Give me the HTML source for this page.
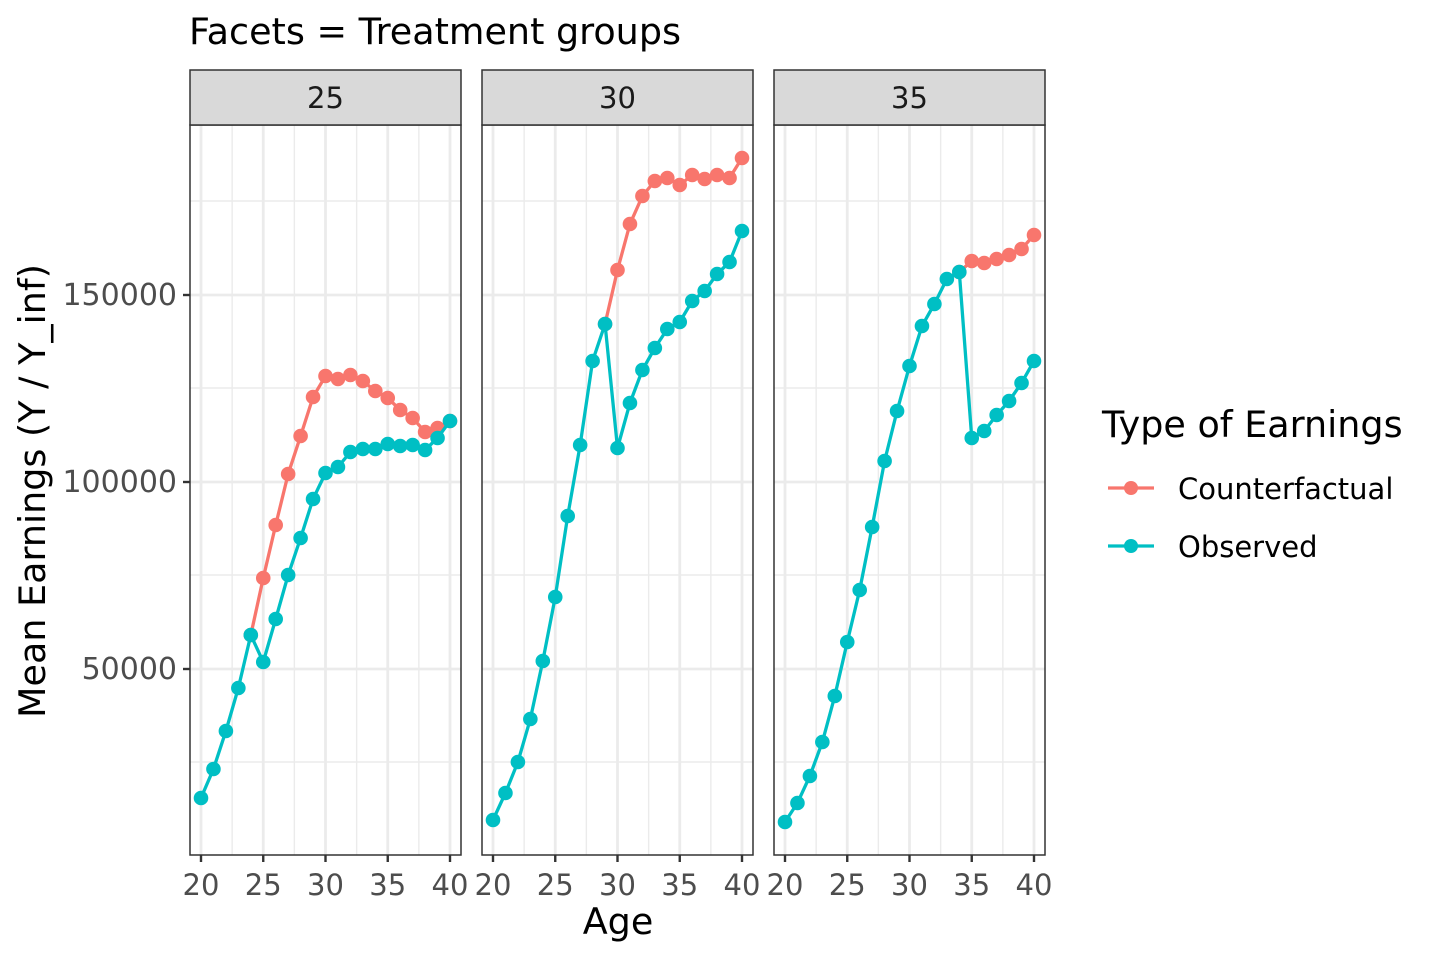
<!DOCTYPE html>
<html><head><meta charset="utf-8"><style>
body{margin:0;background:#fff}
svg text{font-family:"DejaVu Sans","Liberation Sans",sans-serif}
</style></head><body>
<svg id="s" width="1440" height="960" xmlns="http://www.w3.org/2000/svg">
<text x="189" y="44" font-size="36.5" fill="#000">Facets = Treatment groups</text>
<g id="p"></g>
<text x="0" y="0" font-size="36.5" transform="translate(45,491) rotate(-90)" text-anchor="middle">Mean Earnings (Y / Y_inf)</text>
<text x="618" y="934" font-size="36.5" text-anchor="middle">Age</text>
<g font-size="30" fill="#4D4D4D" text-anchor="end">
<text x="177" y="305">150000</text><text x="177" y="492">100000</text><text x="177" y="679">50000</text>
</g>
<text x="1102" y="437" font-size="36.5">Type of Earnings</text>
<line x1="1108" y1="488" x2="1154" y2="488" stroke="#F8766D" stroke-width="3.2"/><circle cx="1131" cy="488" r="7" fill="#F8766D"/>
<text x="1178" y="499" font-size="29">Counterfactual</text>
<line x1="1108" y1="546" x2="1154" y2="546" stroke="#00BFC4" stroke-width="3.2"/><circle cx="1131" cy="546" r="7" fill="#00BFC4"/>
<text x="1178" y="557" font-size="29">Observed</text>
</svg>
<script>
var NS="http://www.w3.org/2000/svg",g=document.getElementById("p");
function el(t,a,txt){var e=document.createElementNS(NS,t);for(var k in a)e.setAttribute(k,a[k]);if(txt)e.textContent=txt;g.appendChild(e);return e;}
var P=[{x0:190,lab:"25",
o:[798,769,731,688,635,662,619,575,538,499,473,467,452,449,449,444,446,445,450,438,421],
c:{s:24,v:[635,578,525,474,436,397,376,379,375,381,391,398,410,418,432,428,421]}},
{x0:482,lab:"30",
o:[820,793,762,719,661,597,516,445,361,324,448,403,370,348,329,322,301,291,274,262,231],
c:{s:29,v:[324,270,224,196,181,178,185,175,179,175,178,158]}},
{x0:774,lab:"35",
o:[822,803,776,742,696,642,590,527,461,411,366,326,304,279,272,438,431,415,401,383,361],
c:{s:34,v:[272,261,263,259,255,249,235]}}];
P.forEach(function(p){
 var x0=p.x0,w=271,ax=function(a){return x0+11+(a-20)*12.45;};
 el("rect",{x:x0,y:125,width:w,height:730,fill:"#fff"});
 [201,388,575,762].forEach(function(y){el("line",{x1:x0,x2:x0+w,y1:y,y2:y,stroke:"#EBEBEB","stroke-width":1.4});});
 [22.5,27.5,32.5,37.5].forEach(function(a){el("line",{x1:ax(a),x2:ax(a),y1:125,y2:855,stroke:"#EBEBEB","stroke-width":1.4});});
 [295,482,669].forEach(function(y){el("line",{x1:x0,x2:x0+w,y1:y,y2:y,stroke:"#EBEBEB","stroke-width":2.8});});
 [20,25,30,35,40].forEach(function(a){el("line",{x1:ax(a),x2:ax(a),y1:125,y2:855,stroke:"#EBEBEB","stroke-width":2.8});
  el("line",{x1:ax(a),x2:ax(a),y1:855,y2:862,stroke:"#333","stroke-width":2.4});
  el("text",{x:ax(a),y:895,"font-size":29,fill:"#4D4D4D","text-anchor":"middle"},String(a));});
 if(x0==190)[295,482,669].forEach(function(y){el("line",{x1:183,x2:190,y1:y,y2:y,stroke:"#333","stroke-width":2.4});});
 function series(s,v,col){var pts=v.map(function(y,i){return ax(s+i)+","+y;}).join(" ");
  el("polyline",{points:pts,fill:"none",stroke:col,"stroke-width":3.3});
  v.forEach(function(y,i){el("circle",{cx:ax(s+i),cy:y,r:7.3,fill:col});});}
 series(p.c.s,p.c.v,"#F8766D");
 series(20,p.o,"#00BFC4");
 el("rect",{x:x0,y:125,width:w,height:730,fill:"none",stroke:"#333","stroke-width":1.5});
 el("rect",{x:x0,y:70,width:w,height:55,fill:"#D9D9D9",stroke:"#333","stroke-width":1.5});
 el("text",{x:x0+w/2,y:108,"font-size":29,fill:"#1A1A1A","text-anchor":"middle"},p.lab);
});
</script>
</body></html>
